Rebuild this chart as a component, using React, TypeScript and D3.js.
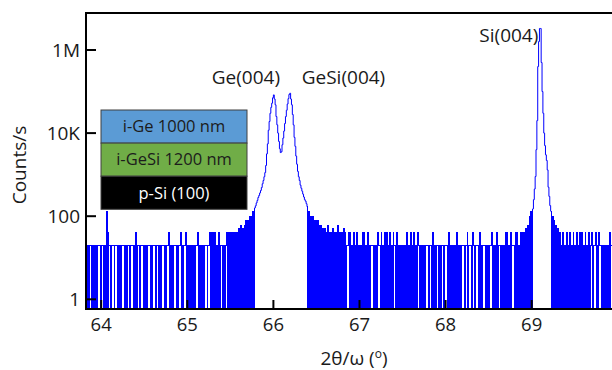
import React from "react";
import * as d3 from "d3";

// XRD 2theta/omega scan, counts/s on a log axis.
// Scan step is 0.01 deg. The noisy baseline is stored as digit codes,
// each digit is an index into levelCounts (0 = no counts).
const scanStep = 0.01;
const levelCounts = [0, 20, 40, 50, 60, 80, 100, 130, 170, 220];

const scanLeftStart = 63.8;
const scanLeftCodes = [
  "1010101110", "1010101110", "1110107021", "1011101110", "1010111010",
  "1110111010", "2011101110", "1010111010", "1110111010", "1110101120",
  "1010111010", "1120101120", "1010101010", "1120101010", "1110112020",
  "2020102011", "1010112020", "2020202020", "3040304050", "50606070",
].join("");

// Ge(004) and GeSi(004) peaks, counts/s
const geGeSiStart = 65.78;
const geGeSiPeak = [
  158, 178, 209, 240, 282, 316, 363, 417, 490, 603,
  724, 891, 1120, 1660, 3160, 5500, 11700, 19000, 30000, 41700,
  52500, 70800, 83000, 66000, 48000, 25000, 15800, 10000, 6300, 4200,
  3400, 3550, 5250, 7600, 11200, 17000, 25000, 35500, 50000, 67600,
  85000, 91000, 66000, 48000, 28000, 15800, 7900, 4800, 2800, 1780,
  1200, 890, 724, 560, 470, 400, 340, 290, 250, 230,
  200,
];

const scanMidStart = 66.39;
const scanMidCodes = [
  "8070606050", "5050404030", "3020402020", "3020204020", "2030201120",
  "2010201020", "1010202010", "2010111010", "1021102010", "2020102010",
  "2110201010", "1010102010", "2010201021", "1010101011", "1011102010",
  "1110101110", "1110201010", "1010201010", "1110112011", "1021101110",
  "2010111010", "1011201010", "2011101010", "2020102011", "1020201020",
  "202030406070",
].join("");

// Si(004) substrate peak, counts/s
const siStart = 69.01;
const siPeak = [
  150, 250, 450, 900, 4000, 20000, 400000, 1600000, 3300000, 3300000,
  500000, 100000, 30000, 10000, 5000, 3000, 2200, 1300, 500, 300,
  180,
];

const scanRightStart = 69.22;
const scanRightCodes = [
  "7060504030", "2010201020", "1020102010", "2010202010", "2010201120",
  "1120102110", "1010101020", "111010101",
].join("");

const xTicks = [64, 65, 66, 67, 68, 69];
const yTicks = [1, 100, 1e4, 1e6];
const yTickLabels = ["1", "100", "10K", "1M"];

const layers = [
  { name: "i-Ge 1000 nm", fill: "#5b9bd5", text: "#1c1c1c" },
  { name: "i-GeSi 1200 nm", fill: "#70ad47", text: "#1c1c1c" },
  { name: "p-Si (100)", fill: "#000000", text: "#ffffff" },
];

const peakLabels = [
  { text: "Ge(004)", at: 66.077, counts: 1.5e5, anchor: "end" },
  { text: "GeSi(004)", at: 66.329, counts: 1.5e5, anchor: "start" },
  { text: "Si(004)", at: 69.077, counts: 1.6e6, anchor: "end" },
];

const fromCodes = (start: number, codes: string) =>
  codes.split("").map((c, i) => [start + i * scanStep, levelCounts[+c]] as [number, number]);
const fromValues = (start: number, values: number[]) =>
  values.map((v, i) => [start + i * scanStep, v] as [number, number]);

// pieces of the scan in order; the noisy ones are drawn pixel-snapped
const pieces = [
  { pts: fromCodes(scanLeftStart, scanLeftCodes), noisy: true },
  { pts: fromValues(geGeSiStart, geGeSiPeak), noisy: false },
  { pts: fromCodes(scanMidStart, scanMidCodes), noisy: true },
  { pts: fromValues(siStart, siPeak), noisy: false },
  { pts: fromCodes(scanRightStart, scanRightCodes), noisy: true },
];

const W = 612;
const H = 370;
const left = 86;
const top = 13;
const bottom = 309;
const font = "'Open Sans', sans-serif";

export default function App() {
  const x = d3.scaleLinear().domain([64, 69]).range([101.2, 531.7]);
  const y = d3.scaleLog().domain([1, 1e6]).range([299.3, 50]);

  const line = d3
    .line<[number, number]>()
    .x((d) => x(d[0]))
    .y((d) => (d[1] > 0 ? y(d[1]) : bottom + 4))
    .curve(d3.curveStepAfter);

  const boxX = 101;
  const boxW = 146;
  const boxTop = 110;
  const rowH = 33.1;

  return (
    <svg
      width={W}
      height={H}
      style={{ position: "absolute", left: 0, top: 0, background: "#fff" }}
      fontFamily={font}
    >
      <defs>
        <clipPath id="plotArea">
          <rect x={left} y={top} width={W - left} height={bottom - top} />
        </clipPath>
      </defs>

      <g clipPath="url(#plotArea)" fill="none" stroke="#0000ff" strokeWidth={1}>
        {pieces.map((p, i) => {
          const next = pieces[i + 1];
          const pts = next ? [...p.pts, next.pts[0]] : p.pts;
          return (
            <path
              key={i}
              d={line(pts) || ""}
              shapeRendering={p.noisy ? "crispEdges" : "auto"}
            />
          );
        })}
      </g>

      {/* frame */}
      <line x1={left} y1={top} x2={W} y2={top} stroke="#000" strokeWidth={2} />
      <line x1={left} y1={bottom} x2={W} y2={bottom} stroke="#000" strokeWidth={2} />
      <line x1={left} y1={top - 1} x2={left} y2={bottom + 1} stroke="#000" strokeWidth={2} />

      {xTicks.map((t) => (
        <g key={t}>
          <line x1={x(t)} x2={x(t)} y1={bottom} y2={bottom - 9} stroke="#000" strokeWidth={2} />
          <text x={x(t)} y={331} textAnchor="middle" fontSize={18.5} fill="#1a1a1a">
            {t}
          </text>
        </g>
      ))}

      {yTicks.map((t, i) => (
        <g key={t}>
          <line x1={left} x2={left + 10} y1={y(t)} y2={y(t)} stroke="#000" strokeWidth={2} />
          <text x={80} y={y(t)} dy="0.35em" textAnchor="end" fontSize={19} fill="#1a1a1a">
            {yTickLabels[i]}
          </text>
        </g>
      ))}

      <text x={354} y={365} textAnchor="middle" fontSize={19} fill="#1a1a1a">
        2θ/ω (<tspan fontSize={12} dy={-7}>o</tspan>
        <tspan dy={7}>)</tspan>
      </text>
      <text
        transform="translate(26,165) rotate(-90)"
        textAnchor="middle"
        fontSize={19}
        fill="#1a1a1a"
      >
        Counts/s
      </text>

      {peakLabels.map((p) => (
        <text
          key={p.text}
          x={x(p.at)}
          y={y(p.counts)}
          textAnchor={p.anchor}
          fontSize={19}
          fill="#1a1a1a"
        >
          {p.text}
        </text>
      ))}

      {/* layer stack inset */}
      {layers.map((l, i) => (
        <g key={l.name}>
          <rect
            x={boxX}
            y={boxTop + i * rowH}
            width={boxW}
            height={rowH}
            fill={l.fill}
            stroke="#404040"
            strokeWidth={1}
          />
          <text
            x={boxX + boxW / 2}
            y={boxTop + i * rowH + rowH / 2}
            dy="0.35em"
            textAnchor="middle"
            fontSize={16.5}
            fill={l.text}
          >
            {l.name}
          </text>
        </g>
      ))}
    </svg>
  );
}
